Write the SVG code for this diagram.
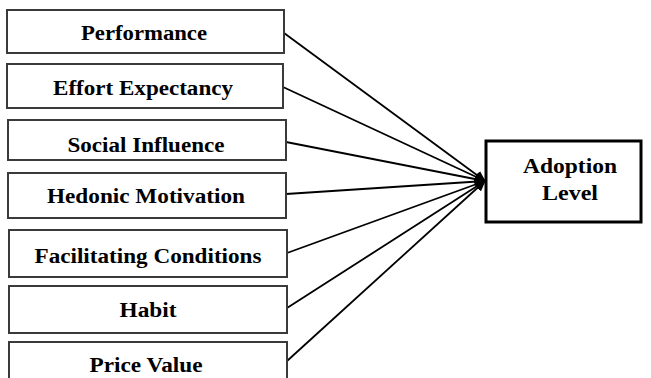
<svg xmlns="http://www.w3.org/2000/svg" width="651" height="378" viewBox="0 0 651 378">
<style>
.box{fill:#fff;stroke:#3a3a3a;stroke-width:2}
.out{fill:#fff;stroke:#000;stroke-width:3}
.t{font-family:"Liberation Serif","Times New Roman",serif;font-weight:bold;font-size:20px;fill:#000;text-anchor:middle}
.c{stroke:#000;stroke-width:1.8;fill:none;marker-end:url(#ah)}
</style>
<defs>
<marker id="ah" markerWidth="11" markerHeight="10" refX="10" refY="5" orient="auto" markerUnits="userSpaceOnUse">
<path d="M0,0 L11,5 L0,10 Z" fill="#000"/>
</marker>
</defs>
<rect width="651" height="378" fill="#fff"/>
<g id="connectors">
<line class="c" x1="284" y1="33" x2="485" y2="181"/>
<line class="c" x1="283" y1="87" x2="485" y2="181"/>
<line class="c" x1="286" y1="142" x2="485" y2="181"/>
<line class="c" x1="286" y1="194" x2="485" y2="181"/>
<line class="c" x1="287" y1="253" x2="485" y2="181"/>
<line class="c" x1="287" y1="308" x2="485" y2="181"/>
<line class="c" x1="287" y1="361" x2="485" y2="181"/>
</g>
<g id="n1"><rect class="box" x="7" y="10" width="277" height="43"/><text class="t" x="144" y="40" textLength="126" lengthAdjust="spacingAndGlyphs">Performance</text></g>
<g id="n2"><rect class="box" x="7" y="64" width="276" height="44"/><text class="t" x="143" y="95" textLength="180" lengthAdjust="spacingAndGlyphs">Effort Expectancy</text></g>
<g id="n3"><rect class="box" x="8" y="120" width="278" height="40"/><text class="t" x="146" y="152" textLength="157" lengthAdjust="spacingAndGlyphs">Social Influence</text></g>
<g id="n4"><rect class="box" x="8" y="173" width="278" height="45"/><text class="t" x="146" y="203" textLength="198" lengthAdjust="spacingAndGlyphs">Hedonic Motivation</text></g>
<g id="n5"><rect class="box" x="9" y="230" width="278" height="47"/><text class="t" x="148" y="263" textLength="227" lengthAdjust="spacingAndGlyphs">Facilitating Conditions</text></g>
<g id="n6"><rect class="box" x="9" y="286" width="278" height="47"/><text class="t" x="148" y="317" textLength="57" lengthAdjust="spacingAndGlyphs">Habit</text></g>
<g id="n7"><rect class="box" x="9" y="342" width="278" height="45"/><text class="t" x="146" y="372" textLength="113" lengthAdjust="spacingAndGlyphs">Price Value</text></g>
<g id="n8"><rect class="out" x="486" y="141" width="155" height="81"/><text class="t" x="570" y="173" textLength="94" lengthAdjust="spacingAndGlyphs">Adoption</text><text class="t" x="570" y="200" textLength="56" lengthAdjust="spacingAndGlyphs">Level</text></g>
</svg>
